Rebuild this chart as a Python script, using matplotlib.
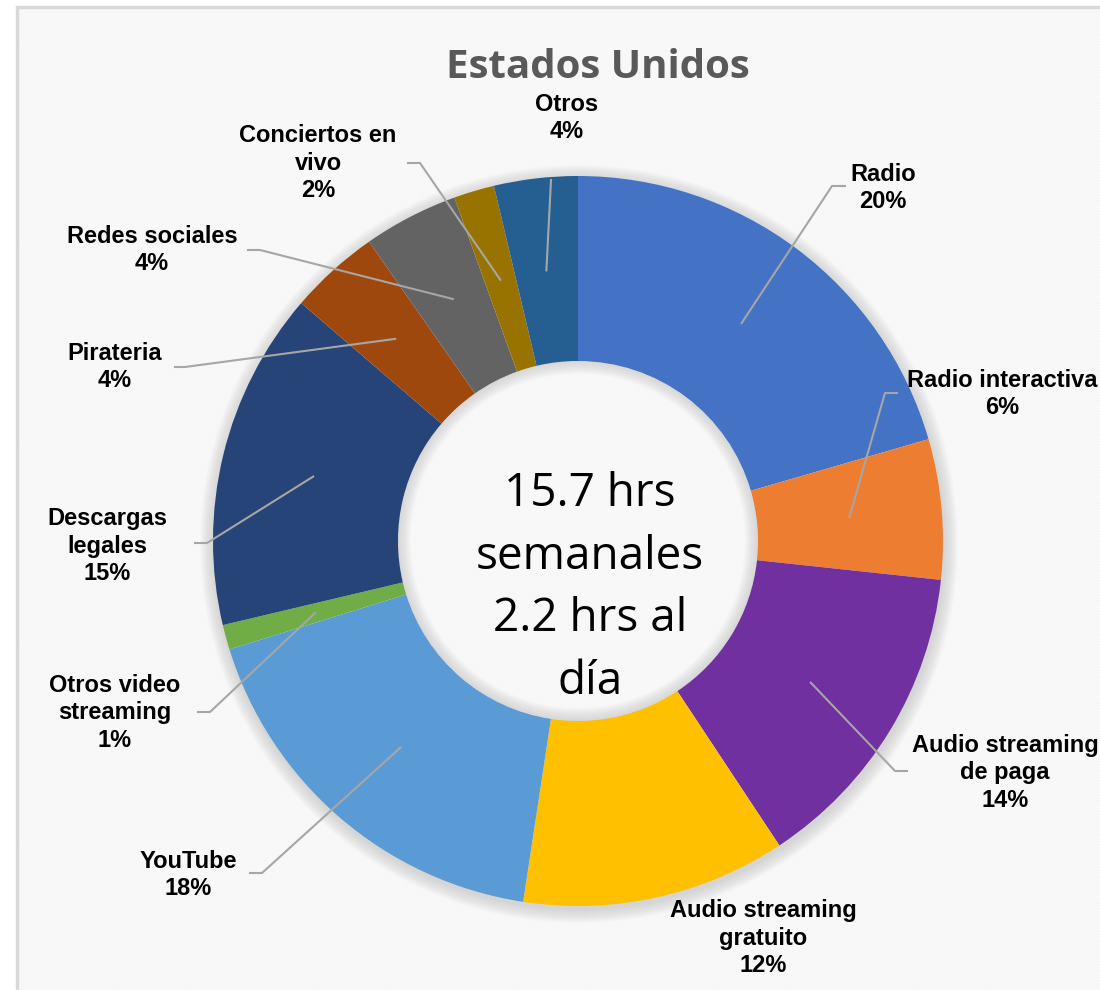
import matplotlib
matplotlib.use("Agg")
import matplotlib.pyplot as plt
from matplotlib.patches import Rectangle, Wedge
import numpy as np

# data (clockwise from 12 o'clock)
categorias = ["Radio", "Radio interactiva", "Audio streaming\nde paga",
              "Audio streaming\ngratuito", "YouTube", "Otros video\nstreaming",
              "Descargas\nlegales", "Pirateria", "Redes sociales",
              "Conciertos en\nvivo", "Otros"]
valores = [20.5, 6.2, 14.0, 11.7, 17.8, 1.1, 15.0, 4.0, 4.2, 1.8, 3.7]
etiquetas_pct = ["20%", "6%", "14%", "12%", "18%", "1%", "15%", "4%", "4%", "2%", "4%"]
colores = ["#4472C4", "#ED7D31", "#7030A0", "#FFC000", "#5B9BD5", "#70AD47",
           "#264478", "#9E480E", "#636363", "#997300", "#255E91"]

titulo = "Estados Unidos"
texto_centro = "15.7 hrs\nsemanales\n2.2 hrs al\ndía"

W, H = 1100, 990
fig = plt.figure(figsize=(11, 9.9), dpi=100)
ax = fig.add_axes([0, 0, 1, 1])

def py(y):  # pixel y (top origin) -> axes y
    return H - y

cx, cy = 578, py(541)
R, r_in = 365, 180

wedges, _ = ax.pie(valores, colors=colores, startangle=90, counterclock=False,
                   center=(cx, cy), radius=R, frame=True,
                   wedgeprops=dict(width=R - r_in, edgecolor="none", zorder=3))
ax.set_xlim(0, W)
ax.set_ylim(0, H)
ax.set_aspect("equal")
ax.axis("off")

# background with faint diagonal stripes + frame
plt.rcParams["hatch.linewidth"] = 1.0
ax.add_patch(Rectangle((17, -20), 1200, py(7) + 20, facecolor="white",
                       edgecolor="#f5f5f5", hatch="/" * 12, lw=0, zorder=0))
ax.add_patch(Rectangle((17, -20), 1200, py(7) + 20, facecolor="none",
                       edgecolor="#d9d9d9", lw=2.5, zorder=1))

# soft shadow around the ring and inside the hole
for k in range(1, 15):
    ax.add_patch(Wedge((cx + 1, cy - 3), R + k, 0, 360, width=k + 4,
                       facecolor="#7f7f7f", edgecolor="none", alpha=0.02, zorder=2))
for k in range(1, 14):
    ax.add_patch(Wedge((cx, cy), r_in, 0, 360, width=k, facecolor="#7f7f7f",
                       edgecolor="none", alpha=0.018, zorder=4))

# label positions (pixel coords, top origin): text centre, elbow, line end
label_pos = [
    ((883, 188), (832, 186), (845, 186)),
    ((1002, 394), (885, 393), (897, 393)),
    ((1005, 773), (895, 771), (907, 771)),
    ((763, 938), None, None),
    ((188, 875), (262, 873), (250, 873)),
    ((115, 713), (210, 712), (198, 712)),
    ((107, 546), (207, 543), (195, 543)),
    ((115, 367), (185, 367), (175, 367)),
    ((152, 250), (260, 250), (248, 250)),
    ((318, 163), (420, 163), (408, 163)),
    ((567, 118), (551, 180), None),
]

total = sum(valores)
acc = 0
r_mid = (R + r_in) / 2
for i, v in enumerate(valores):
    mid = 90 - (acc + v / 2) / total * 360
    acc += v
    (tx, ty), elbow, end = label_pos[i]
    ax.text(tx, py(ty), categorias[i] + "\n" + etiquetas_pct[i], ha="center",
            va="center", fontsize=17, fontweight="bold",
            family="Liberation Sans", color="black", linespacing=1.25, zorder=6)
    if elbow is None:
        continue
    ax_ = cx + r_mid * np.cos(np.radians(mid))
    ay_ = cy + r_mid * np.sin(np.radians(mid))
    xs = [ax_, elbow[0]]
    ys = [ay_, py(elbow[1])]
    if end is not None:
        xs.append(end[0])
        ys.append(py(end[1]))
    ax.plot(xs, ys, color="#a6a6a6", lw=1.5, zorder=5)

ax.text(598, py(68), titulo, ha="center", va="center", fontsize=29,
        fontweight="bold", family="Open Sans", color="#595959", zorder=6)
ax.text(590, py(588), texto_centro, ha="center", va="center", fontsize=33,
        family="Open Sans", color="black", linespacing=1.47, zorder=6)

fig.savefig("out.png", dpi=100)
